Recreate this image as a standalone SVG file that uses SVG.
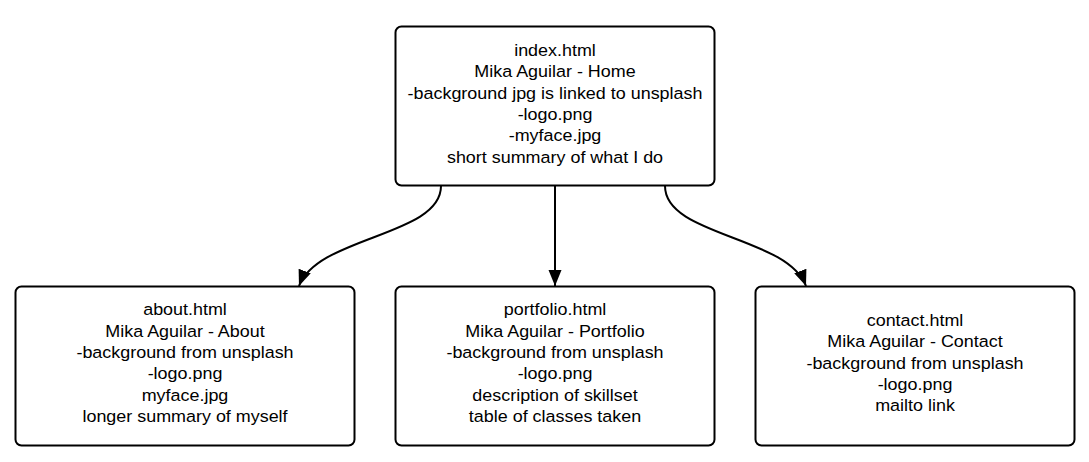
<svg xmlns="http://www.w3.org/2000/svg" width="1089" height="462" viewBox="0 0 1089 462">
<style>
.box{fill:#ffffff;stroke:#000000;stroke-width:2}
.lbl{font-family:"Liberation Sans",Arial,sans-serif;font-size:16.3px;fill:#000000;text-anchor:middle}
.conn{fill:none;stroke:#000000;stroke-width:2}
</style>
<defs>
<marker id="arrow" markerUnits="userSpaceOnUse" markerWidth="18" markerHeight="14" refX="16" refY="6.5" orient="auto">
<path d="M0,0 L16,6.5 L0,13 Z" fill="#000000"/>
</marker>
</defs>
<rect width="1089" height="462" fill="#ffffff"/>
<g id="connectors">
<path class="conn" d="M441,186 C441,236 318,236 299,286" marker-end="url(#arrow)"/>
<path class="conn" d="M555,186 L555,286" marker-end="url(#arrow)"/>
<path class="conn" d="M665,186 C665,236 787,236 806,286" marker-end="url(#arrow)"/>
</g>
<g id="index">
<rect class="box" x="395.5" y="26.5" width="319" height="159" rx="6"/>
<g transform="translate(555 0) scale(1.1 1)">
<text class="lbl" x="0" y="56">index.html</text>
<text class="lbl" x="0" y="77.3">Mika Aguilar - Home</text>
<text class="lbl" x="0" y="98.6">-background jpg is linked to unsplash</text>
<text class="lbl" x="0" y="120">-logo.png</text>
<text class="lbl" x="0" y="141.3">-myface.jpg</text>
<text class="lbl" x="0" y="162.6">short summary of what I do</text>
</g>
</g>
<g id="about">
<rect class="box" x="15.5" y="286.5" width="339" height="159" rx="6"/>
<g transform="translate(185 0) scale(1.1 1)">
<text class="lbl" x="0" y="315.5">about.html</text>
<text class="lbl" x="0" y="336.8">Mika Aguilar - About</text>
<text class="lbl" x="0" y="358.1">-background from unsplash</text>
<text class="lbl" x="0" y="379.5">-logo.png</text>
<text class="lbl" x="0" y="400.8">myface.jpg</text>
<text class="lbl" x="0" y="422.1">longer summary of myself</text>
</g>
</g>
<g id="portfolio">
<rect class="box" x="395.5" y="286.5" width="319" height="159" rx="6"/>
<g transform="translate(555 0) scale(1.1 1)">
<text class="lbl" x="0" y="315.5">portfolio.html</text>
<text class="lbl" x="0" y="336.8">Mika Aguilar - Portfolio</text>
<text class="lbl" x="0" y="358.1">-background from unsplash</text>
<text class="lbl" x="0" y="379.5">-logo.png</text>
<text class="lbl" x="0" y="400.8">description of skillset</text>
<text class="lbl" x="0" y="422.1">table of classes taken</text>
</g>
</g>
<g id="contact">
<rect class="box" x="755.5" y="286.5" width="319" height="159" rx="6"/>
<g transform="translate(915 0) scale(1.1 1)">
<text class="lbl" x="0" y="326">contact.html</text>
<text class="lbl" x="0" y="347.3">Mika Aguilar - Contact</text>
<text class="lbl" x="0" y="368.6">-background from unsplash</text>
<text class="lbl" x="0" y="390">-logo.png</text>
<text class="lbl" x="0" y="411.3">mailto link</text>
</g>
</g>
</svg>
